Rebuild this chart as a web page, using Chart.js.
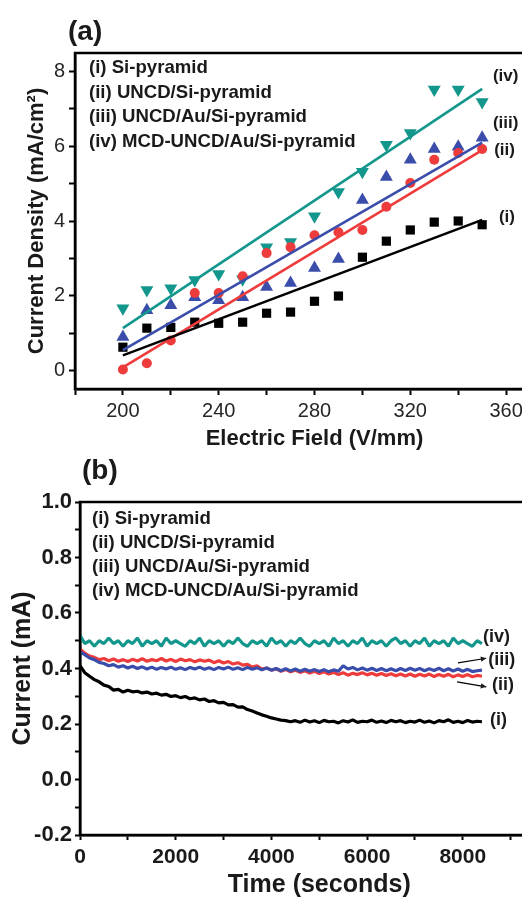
<!DOCTYPE html>
<html>
<head>
<meta charset="utf-8">
<script src="https://cdn.jsdelivr.net/npm/chart.js@4.4.1/dist/chart.umd.min.js"></script>
<style>
html, body { margin: 0; padding: 0; background: #fff; overflow: hidden; width: 522px; height: 899px; }
canvas { position: absolute; left: 0; }
#chartA { top: 0; }
#chartB { top: 450px; }
</style>
</head>
<body>
<canvas id="chartA" width="570" height="450"></canvas>
<canvas id="chartB" width="570" height="449"></canvas>
<script>
// ---- (a) current density vs electric field ----
const fieldValues = [200, 210, 220, 230, 240, 250, 260, 270, 280, 290, 300, 310, 320, 330, 340, 350];
const densitySi      = [0.62, 1.13, 1.15, 1.29, 1.26, 1.29, 1.53, 1.56, 1.85, 1.99, 3.03, 3.46, 3.76, 3.97, 4.00, 3.90];
const densityUncd    = [0.02, 0.19, 0.80, 2.07, 2.07, 2.52, 3.14, 3.30, 3.62, 3.70, 3.76, 4.38, 5.02, 5.64, 5.82, 5.93];
const densityUncdAu  = [0.89, 1.61, 1.74, 1.96, 1.88, 1.96, 2.23, 2.34, 2.74, 2.98, 4.56, 5.18, 5.64, 5.93, 5.99, 6.23];
const densityMcd     = [1.66, 2.15, 2.20, 2.42, 2.58, 2.44, 3.30, 3.44, 4.13, 4.78, 5.32, 6.04, 6.36, 7.52, 7.52, 7.19];
// fitted lines, read at E = 200 and E = 350
const fitField = [200, 350];
const fitSi     = [0.40, 4.03];
const fitUncd   = [0.08, 5.90];
const fitUncdAu = [0.54, 6.10];
const fitMcd    = [1.13, 7.54];
const fieldTicks = [180, 200, 220, 240, 260, 280, 300, 320, 340, 360, 380];
const fieldLabels = [200, 240, 280, 320, 360];
const densityTicks = [0, 1, 2, 3, 4, 5, 6, 7, 8];
const densityLabels = [0, 2, 4, 6, 8];

// ---- (b) current vs time ----
const sampleStep = 100; // seconds between samples
const currentSi = [
  0.410,0.385,0.372,0.360,0.352,0.340,0.335,0.322,0.325,0.315,
  0.322,0.316,0.318,0.312,0.315,0.308,0.311,0.304,0.307,0.299,
  0.302,0.295,0.299,0.291,0.294,0.287,0.290,0.281,0.284,0.276,
  0.278,0.269,0.270,0.261,0.262,0.252,0.247,0.240,0.233,0.228,
  0.222,0.218,0.214,0.212,0.208,0.212,0.206,0.214,0.207,0.212,
  0.205,0.213,0.208,0.210,0.204,0.212,0.207,0.215,0.206,0.210,
  0.208,0.214,0.206,0.211,0.205,0.213,0.208,0.212,0.205,0.210,
  0.207,0.214,0.206,0.211,0.204,0.212,0.208,0.215,0.206,0.210,
  0.205,0.213,0.207,0.210,0.208];
const currentUncd = [
  0.470,0.455,0.445,0.440,0.432,0.436,0.428,0.434,0.426,0.432,
  0.425,0.433,0.427,0.435,0.426,0.432,0.428,0.436,0.427,0.433,
  0.425,0.434,0.428,0.432,0.424,0.431,0.426,0.430,0.421,0.428,
  0.420,0.425,0.416,0.421,0.412,0.415,0.405,0.410,0.398,0.402,
  0.394,0.399,0.390,0.396,0.388,0.394,0.386,0.392,0.384,0.390,
  0.382,0.388,0.380,0.386,0.378,0.385,0.376,0.383,0.378,0.385,
  0.377,0.383,0.376,0.382,0.375,0.381,0.374,0.380,0.373,0.380,
  0.372,0.379,0.373,0.380,0.371,0.378,0.372,0.379,0.370,0.377,
  0.371,0.378,0.370,0.375,0.372];
const currentUncdAu = [
  0.460,0.450,0.438,0.432,0.422,0.418,0.410,0.414,0.405,0.410,
  0.402,0.408,0.400,0.406,0.398,0.405,0.397,0.404,0.398,0.405,
  0.397,0.403,0.396,0.404,0.398,0.405,0.397,0.403,0.396,0.404,
  0.398,0.405,0.397,0.403,0.396,0.404,0.397,0.403,0.395,0.402,
  0.394,0.400,0.392,0.399,0.391,0.398,0.390,0.397,0.390,0.396,
  0.389,0.396,0.388,0.395,0.390,0.410,0.398,0.404,0.395,0.402,
  0.394,0.401,0.393,0.400,0.392,0.399,0.392,0.400,0.393,0.401,
  0.394,0.400,0.392,0.399,0.393,0.401,0.392,0.399,0.391,0.398,
  0.390,0.397,0.389,0.392,0.394];
const currentMcd = [
  0.52,0.49,0.50,0.48,0.50,0.49,0.51,0.49,0.50,0.48,
  0.50,0.49,0.51,0.48,0.50,0.49,0.50,0.48,0.51,0.49,
  0.50,0.49,0.48,0.50,0.49,0.51,0.48,0.50,0.49,0.50,
  0.48,0.50,0.49,0.51,0.49,0.48,0.50,0.49,0.50,0.48,
  0.51,0.49,0.50,0.48,0.50,0.49,0.51,0.49,0.48,0.50,
  0.49,0.50,0.48,0.51,0.49,0.50,0.48,0.50,0.49,0.51,
  0.48,0.50,0.49,0.50,0.48,0.50,0.51,0.49,0.50,0.48,
  0.50,0.49,0.51,0.48,0.50,0.49,0.50,0.48,0.51,0.49,
  0.50,0.49,0.48,0.50,0.49];
const timeTicks = [0, 1000, 2000, 3000, 4000, 5000, 6000, 7000, 8000, 9000, 10000];
const timeLabels = [0, 2000, 4000, 6000, 8000];
const currentTicks = [-0.2, -0.1, 0, 0.1, 0.2, 0.3, 0.4, 0.5, 0.6, 0.7, 0.8, 0.9, 1.0];
const currentLabels = [-0.2, 0, 0.2, 0.4, 0.6, 0.8, 1.0];

const sampleNames = ['(i) Si-pyramid', '(ii) UNCD/Si-pyramid', '(iii) UNCD/Au/Si-pyramid', '(iv) MCD-UNCD/Au/Si-pyramid'];

const FONT = '"Liberation Sans", Arial, Helvetica, sans-serif';
const BLACK = '#000000', RED = '#ee3b3b', BLUE = '#3b4dab', TEAL = '#13978d';

Chart.defaults.font.family = FONT;
Chart.defaults.color = '#1a1a1a';

function pts(xs, ys) {
  return ys.map((v, i) => ({ x: xs[i], y: v }));
}
function timePts(ys) {
  return ys.map((v, i) => ({ x: i * sampleStep, y: v }));
}

// frame, panel label, in-plot legend text, curve labels and arrows
const annotate = {
  id: 'annotate',
  afterDraw(chart) {
    const o = chart.options.plugins.annotate;
    const { ctx, chartArea: a, scales } = chart;
    const sx = scales.x, sy = scales.y;
    ctx.save();
    ctx.strokeStyle = '#000';
    ctx.lineWidth = 2.5;
    ctx.strokeRect(a.left, a.top, a.right - a.left, a.bottom - a.top);
    ctx.fillStyle = '#1a1a1a';
    ctx.textAlign = 'left';
    ctx.textBaseline = 'middle';
    ctx.font = 'bold 28px ' + FONT;
    ctx.fillText(o.panel, o.panelX, o.panelY);
    ctx.font = 'bold ' + o.legendSize + 'px ' + FONT;
    o.legend.forEach((t, i) => ctx.fillText(t, a.left + o.legendDx, a.top + o.legendDy + i * o.legendGap));
    ctx.font = 'bold ' + o.noteSize + 'px ' + FONT;
    o.notes.forEach(n => ctx.fillText(n.text, sx.getPixelForValue(n.x), sy.getPixelForValue(n.y)));
    ctx.lineWidth = 1.2;
    (o.arrows || []).forEach(ar => {
      const x0 = sx.getPixelForValue(ar.x0), y0 = sy.getPixelForValue(ar.y0);
      const x1 = sx.getPixelForValue(ar.x1), y1 = sy.getPixelForValue(ar.y1);
      const ang = Math.atan2(y1 - y0, x1 - x0);
      ctx.beginPath();
      ctx.moveTo(x0, y0);
      ctx.lineTo(x1, y1);
      ctx.stroke();
      ctx.beginPath();
      ctx.moveTo(x1, y1);
      ctx.lineTo(x1 - 6 * Math.cos(ang - 0.45), y1 - 6 * Math.sin(ang - 0.45));
      ctx.lineTo(x1 - 6 * Math.cos(ang + 0.45), y1 - 6 * Math.sin(ang + 0.45));
      ctx.closePath();
      ctx.fill();
    });
    ctx.restore();
  }
};

function markerSet(label, ys, color, style, radius, rotation) {
  return {
    label: label,
    data: pts(fieldValues, ys),
    showLine: false,
    pointStyle: style,
    pointRadius: radius,
    pointRotation: rotation || 0,
    backgroundColor: color,
    borderColor: color,
    borderWidth: 0,
    order: 2
  };
}
function fitSet(ys, color) {
  return {
    data: pts(fitField, ys),
    showLine: true,
    pointRadius: 0,
    borderColor: color,
    borderWidth: 2.6,
    order: 1
  };
}

new Chart(document.getElementById('chartA'), {
  type: 'scatter',
  data: {
    datasets: [
      fitSet(fitSi, BLACK),
      fitSet(fitUncd, RED),
      fitSet(fitUncdAu, BLUE),
      fitSet(fitMcd, TEAL),
      markerSet(sampleNames[0], densitySi, BLACK, 'rect', 6.5),
      markerSet(sampleNames[1], densityUncd, RED, 'circle', 5),
      markerSet(sampleNames[2], densityUncdAu, BLUE, 'triangle', 7.5),
      markerSet(sampleNames[3], densityMcd, TEAL, 'triangle', 7.5, 180)
    ]
  },
  options: {
    responsive: false,
    animation: false,
    devicePixelRatio: 1,
    layout: { padding: { top: 53, right: 16, bottom: 0, left: 0 } },
    plugins: {
      legend: { display: false },
      tooltip: { enabled: false },
      annotate: {
        panel: '(a)', panelX: 68, panelY: 32,
        legend: sampleNames, legendSize: 18.6, legendDx: 14, legendDy: 15, legendGap: 24.5,
        noteSize: 17,
        notes: [
          { text: '(iv)', x: 354.5, y: 7.87 },
          { text: '(iii)', x: 354.5, y: 6.63 },
          { text: '(ii)', x: 355, y: 5.9 },
          { text: '(i)', x: 357, y: 4.1 }
        ]
      }
    },
    scales: {
      x: {
        type: 'linear', min: 180, max: 380,
        border: { color: '#000', width: 2.5 },
        grid: { drawOnChartArea: false, color: '#000', tickLength: 6, tickWidth: 2 },
        afterBuildTicks: s => { s.ticks = fieldTicks.map(v => ({ value: v })); },
        ticks: { autoSkip: false, maxRotation: 0, padding: 4, color: '#262626', font: { size: 20 },
          callback: v => fieldLabels.includes(v) ? String(v) : '' },
        title: { display: true, text: 'Electric Field (V/mm)', font: { size: 22, weight: 'bold', lineHeight: 1 }, padding: { top: 0, bottom: 0 } },
        afterFit: s => { s.height = 61; }
      },
      y: {
        type: 'linear', min: -0.5, max: 8.5,
        border: { color: '#000', width: 2.5 },
        grid: { drawOnChartArea: false, color: '#000', tickLength: 6, tickWidth: 2 },
        afterBuildTicks: s => { s.ticks = densityTicks.map(v => ({ value: v })); },
        ticks: { autoSkip: false, padding: 4, color: '#262626', font: { size: 20 },
          callback: v => densityLabels.includes(v) ? String(v) : '' },
        title: { display: true, text: 'Current Density (mA/cm²)', font: { size: 22, weight: 'bold', lineHeight: 1 }, padding: { top: 26, bottom: 0 } },
        afterFit: s => { s.width = 75; }
      }
    }
  },
  plugins: [annotate]
});

function traceSet(ys, color) {
  return {
    data: timePts(ys),
    pointRadius: 0,
    borderColor: color,
    borderWidth: 3.2,
    borderJoinStyle: 'bevel',
    tension: 0,
    fill: false
  };
}

new Chart(document.getElementById('chartB'), {
  type: 'line',
  data: {
    datasets: [
      traceSet(currentSi, BLACK),
      traceSet(currentUncdAu, BLUE),
      traceSet(currentUncd, RED),
      traceSet(currentMcd, TEAL)
    ]
  },
  options: {
    responsive: false,
    animation: false,
    devicePixelRatio: 1,
    layout: { padding: { top: 52, right: 11.5, bottom: 0, left: 0 } },
    plugins: {
      legend: { display: false },
      tooltip: { enabled: false },
      annotate: {
        panel: '(b)', panelX: 82, panelY: 21,
        legend: sampleNames, legendSize: 18.6, legendDx: 12, legendDy: 17, legendGap: 23.8,
        noteSize: 18,
        notes: [
          { text: '(iv)', x: 8420, y: 0.515 },
          { text: '(iii)', x: 8530, y: 0.43 },
          { text: '(ii)', x: 8610, y: 0.34 },
          { text: '(i)', x: 8570, y: 0.213 }
        ],
        arrows: [
          { x0: 7900, y0: 0.42, x1: 8490, y1: 0.437 },
          { x0: 7880, y0: 0.352, x1: 8490, y1: 0.334 }
        ]
      }
    },
    scales: {
      x: {
        type: 'linear', min: 0, max: 10000,
        border: { color: '#000', width: 2.5 },
        grid: { drawOnChartArea: false, color: '#000', tickLength: 5, tickWidth: 2 },
        afterBuildTicks: s => { s.ticks = timeTicks.map(v => ({ value: v })); },
        ticks: { autoSkip: false, maxRotation: 0, padding: 5, font: { size: 21, weight: 'bold' },
          callback: v => timeLabels.includes(v) ? String(v) : '' },
        title: { display: true, text: 'Time (seconds)', font: { size: 25, weight: 'bold', lineHeight: 1 }, padding: { top: 0, bottom: 1 } },
        afterFit: s => { s.height = 64; }
      },
      y: {
        type: 'linear', min: -0.2, max: 1.0,
        border: { color: '#000', width: 2.5 },
        grid: { drawOnChartArea: false, color: '#000', tickLength: 5, tickWidth: 2 },
        afterBuildTicks: s => { s.ticks = currentTicks.map(v => ({ value: v })); },
        ticks: { autoSkip: false, padding: 3, font: { size: 22, weight: 'bold' },
          callback: v => currentLabels.some(c => Math.abs(c - v) < 1e-9) ? v.toFixed(1) : '' },
        title: { display: true, text: 'Current (mA)', font: { size: 25, weight: 'bold', lineHeight: 1 }, padding: { top: 11, bottom: 0 } },
        afterFit: s => { s.width = 80; }
      }
    }
  },
  plugins: [annotate]
});
</script>
</body>
</html>
